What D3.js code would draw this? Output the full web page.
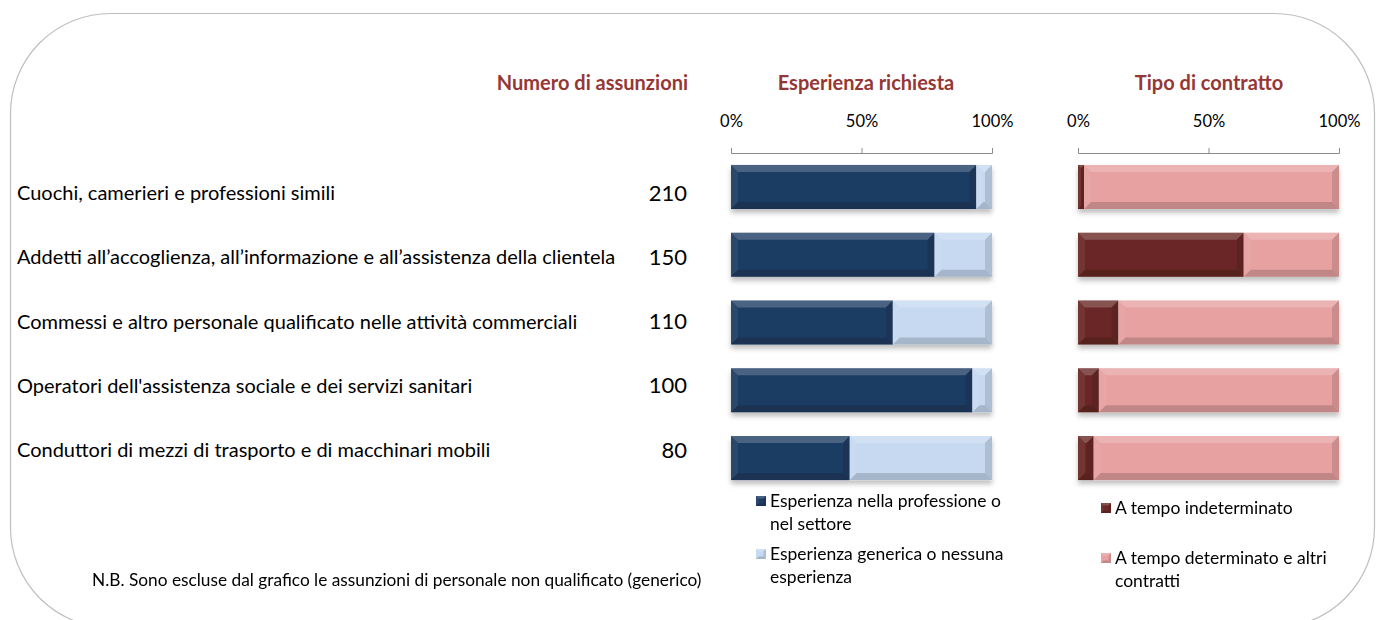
<!DOCTYPE html>
<html lang="it">
<head>
    <meta charset="utf-8">
    <title>Assunzioni</title>
    <script src="https://d3js.org/d3.v7.min.js" charset="utf-8"></script>
    <style>
        body { margin: 0; background: #fff; }
        svg text { font-family: Lato, "Open Sans", sans-serif; }
    </style>
</head>
<body>

<script>

// data
var professioni = [
    "Cuochi, camerieri e professioni simili",
    "Addetti all\u2019accoglienza, all\u2019informazione e all\u2019assistenza della clientela",
    "Commessi e altro personale qualificato nelle attività commerciali",
    "Operatori dell'assistenza sociale e dei servizi sanitari",
    "Conduttori di mezzi di trasporto e di macchinari mobili"
]
var assunzioni = [210, 150, 110, 100, 80]

// share with experience in the profession / sector
var espSettore = [0.94, 0.78, 0.62, 0.925, 0.455]
// share with permanent contract
var tempoIndet = [0.023, 0.635, 0.155, 0.08, 0.06]

var pctTicks = [0, 0.5, 1]
var legendaEsp = [["Esperienza nella professione o", "nel settore"], ["Esperienza generica o nessuna", "esperienza"]]
var legendaContr = [["A tempo indeterminato"], ["A tempo determinato e altri", "contratti"]]

var w = 1376, h = 620
var titleColor = "#953735"
var espColors = ["#1f3c63", "#c6d9f1"]
var contrColors = ["#6a2826", "#e6a1a0"]

var svg = d3.select("body").append("svg").attr("width", w).attr("height", h)

var defs = svg.append("defs")
var shadow = defs.append("filter").attr("id", "shadow").attr("x", "-5%").attr("y", "-20%").attr("width", "110%").attr("height", "160%")
shadow.append("feDropShadow").attr("dx", 0).attr("dy", 4).attr("stdDeviation", 2.5).attr("flood-color", "#000").attr("flood-opacity", 0.25)

// outer rounded frame
svg.append("rect").attr("x", 10.5).attr("y", 13.5).attr("width", 1364).attr("height", 614)
    .attr("rx", 100).attr("ry", 100).attr("fill", "none").attr("stroke", "#bfbfbf").attr("stroke-width", 1.2)

// scales
var yLabel = d3.scalePoint().domain(professioni).range([193, 450])
var yBar = d3.scaleBand().domain(professioni).range([153.1, 491.9]).paddingInner(0.35).paddingOuter(0.175)
var xEsp = d3.scaleLinear().domain([0, 1]).range([731, 992])
var xContr = d3.scaleLinear().domain([0, 1]).range([1078, 1339])

// column titles
svg.append("text").attr("x", 688).attr("y", 90).attr("text-anchor", "end")
    .attr("font-size", 20).attr("font-weight", "bold").attr("fill", titleColor).text("Numero di assunzioni")
svg.append("text").attr("x", 866).attr("y", 90).attr("text-anchor", "middle")
    .attr("font-size", 20).attr("font-weight", "bold").attr("fill", titleColor).text("Esperienza richiesta")
svg.append("text").attr("x", 1209).attr("y", 90).attr("text-anchor", "middle")
    .attr("font-size", 20).attr("font-weight", "bold").attr("fill", titleColor).text("Tipo di contratto")

// category labels and counts
svg.selectAll(".lab").data(professioni).enter().append("text").attr("class", "lab")
    .attr("x", 17).attr("y", function(d){return yLabel(d)}).attr("dy", "0.35em")
    .attr("font-size", 20).attr("fill", "#000").text(function(d){return d})

svg.selectAll(".num").data(assunzioni).enter().append("text").attr("class", "num")
    .attr("x", 687).attr("y", function(d, i){return yLabel(professioni[i])}).attr("dy", "0.35em")
    .attr("text-anchor", "end").attr("font-size", 22).attr("fill", "#000").text(function(d){return d})

// bevelled rectangle, like the Office "bevel" style
function bevel(g, x0, x1, y0, y1, color, depth) {
    var d = Math.min(depth, (x1 - x0) / 2, (y1 - y0) / 2)
    g.append("rect").attr("x", x0).attr("y", y0).attr("width", x1 - x0).attr("height", y1 - y0).attr("fill", color)
    var faces = [
        [[x0, y0], [x1, y0], [x1 - d, y0 + d], [x0 + d, y0 + d], "#fff", 0.2],
        [[x0, y0], [x0 + d, y0 + d], [x0 + d, y1 - d], [x0, y1], "#fff", 0.06],
        [[x1, y0], [x1, y1], [x1 - d, y1 - d], [x1 - d, y0 + d], "#000", 0.12],
        [[x0, y1], [x0 + d, y1 - d], [x1 - d, y1 - d], [x1, y1], "#000", 0.16]
    ]
    faces.forEach(function(f) {
        g.append("polygon").attr("points", f.slice(0, 4).map(function(p){return p.join(",")}).join(" "))
            .attr("fill", f[4]).attr("opacity", f[5])
    })
}

function buildStack(shares, xScale, colors) {
    var g = svg.append("g").attr("filter", "url(#shadow)")
    shares.forEach(function(s, i) {
        var y0 = yBar(professioni[i]), y1 = y0 + yBar.bandwidth()
        bevel(g, xScale(0), xScale(s), y0, y1, colors[0], 7)
        bevel(g, xScale(s), xScale(1), y0, y1, colors[1], 7)
    })
}

function buildAxis(xScale) {
    var ax = svg.append("g").attr("transform", "translate(0,153)")
        .call(d3.axisTop(xScale).tickValues(pctTicks).tickFormat(d3.format(".0%")).tickSize(5).tickSizeOuter(5).tickPadding(21))
    ax.selectAll("path,line").attr("stroke", "#8c8c8c")
    ax.selectAll("text").attr("font-size", 16.5).attr("fill", "#000").style("font-family", "Lato, 'Open Sans', sans-serif")
}

buildAxis(xEsp)
buildAxis(xContr)
buildStack(espSettore, xEsp, espColors)
buildStack(tempoIndet, xContr, contrColors)

// legends
function buildLegend(items, colors, x, ys) {
    items.forEach(function(lines, i) {
        var g = svg.append("g")
        bevel(g, x, x + 10, ys[i] - 11, ys[i] - 1, colors[i], 2.5)
        lines.forEach(function(t, j) {
            svg.append("text").attr("x", x + 14).attr("y", ys[i] + j * 22.5).attr("font-size", 17.5).attr("fill", "#000").text(t)
        })
    })
}
buildLegend(legendaEsp, espColors, 756, [507, 560])
buildLegend(legendaContr, contrColors, 1101, [514, 564])

svg.append("text").attr("x", 92).attr("y", 586).attr("font-size", 17.3).attr("fill", "#000")
    .text("N.B. Sono escluse dal grafico le assunzioni di personale non qualificato (generico)")

</script>

</body>
</html>
